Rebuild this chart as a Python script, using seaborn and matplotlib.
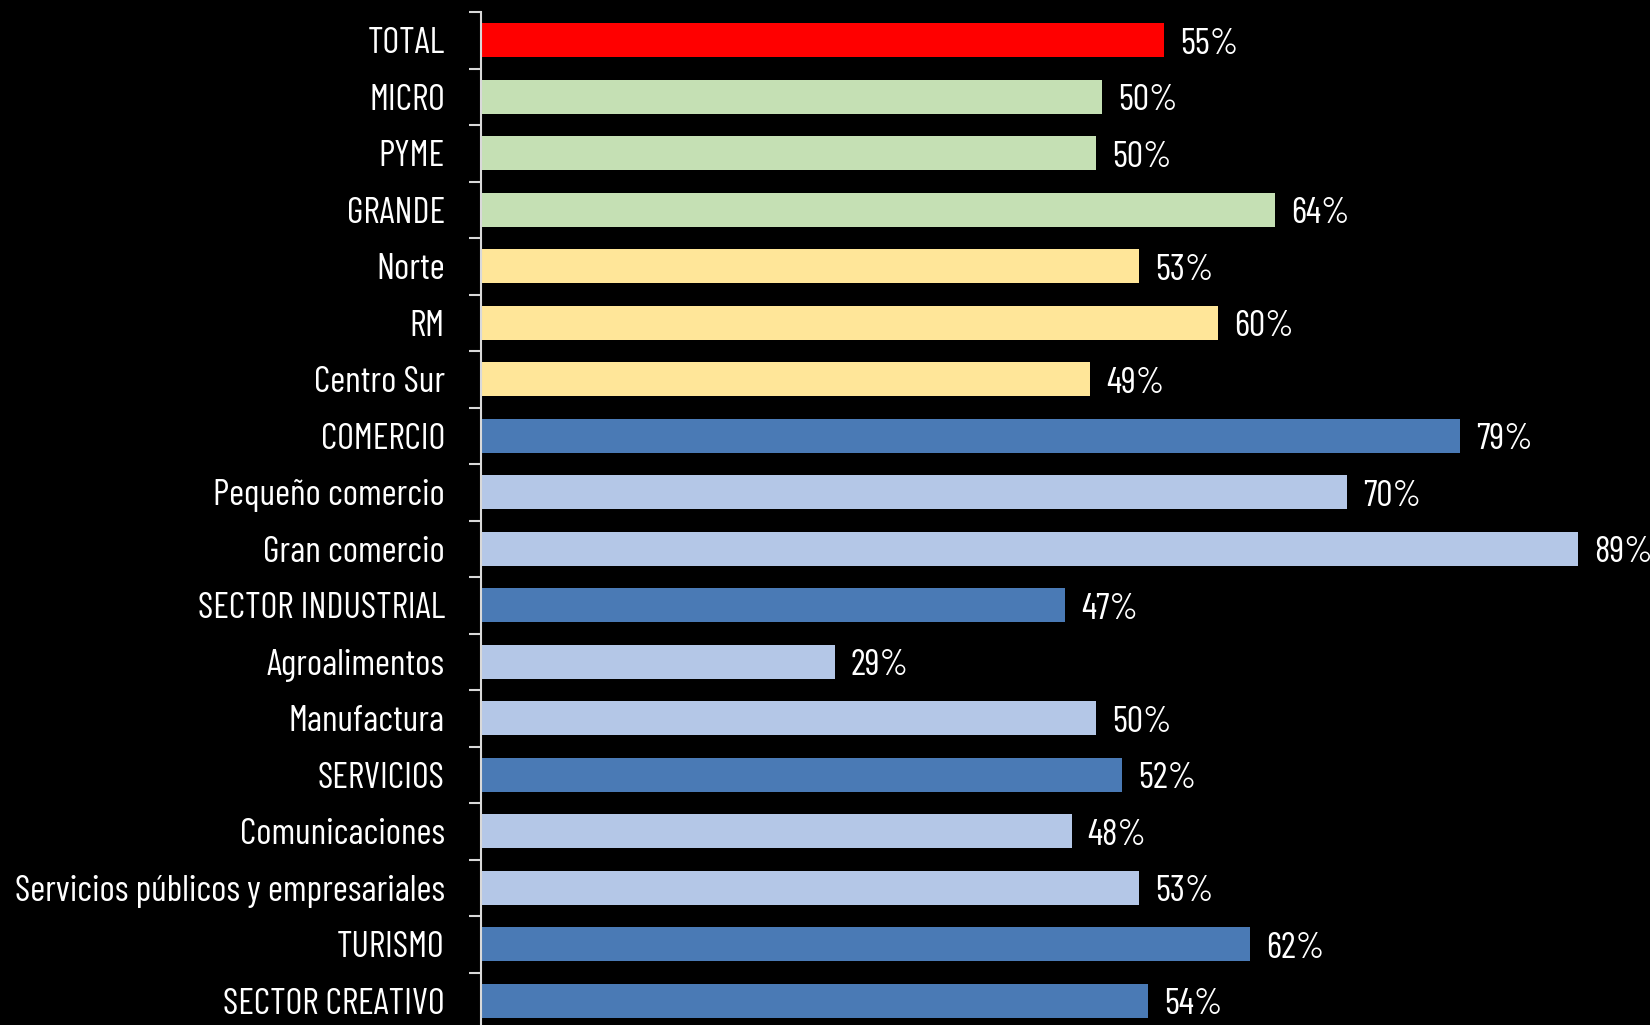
import matplotlib
matplotlib.use("Agg")
import matplotlib.pyplot as plt
from matplotlib.ticker import FixedLocator
import seaborn as sns
import pandas as pd

categories = ["TOTAL", "MICRO", "PYME", "GRANDE", "Norte", "RM", "Centro Sur",
              "COMERCIO", "Pequeño comercio", "Gran comercio", "SECTOR INDUSTRIAL",
              "Agroalimentos", "Manufactura", "SERVICIOS", "Comunicaciones",
              "Servicios públicos y empresariales", "TURISMO", "SECTOR CREATIVO"]
values = [55.4, 50.4, 49.9, 64.4, 53.4, 59.8, 49.4, 79.4, 70.2, 89.0, 47.4, 28.7,
          49.9, 52.0, 47.9, 53.4, 62.4, 54.1]
groups = ["total", "size", "size", "size", "region", "region", "region",
          "sector", "sub", "sub", "sector", "sub", "sub", "sector", "sub", "sub",
          "sector", "sector"]

group_colors = {"total": "#FF0000", "size": "#C5E0B4", "region": "#FFE699",
                "sector": "#4A7AB5", "sub": "#B4C7E7"}

df = pd.DataFrame({"cat": categories, "val": values, "grp": groups})

sns.set_style("dark")
plt.rcParams['font.family'] = ['Barlow Condensed', 'DejaVu Sans']

fig = plt.figure(figsize=(16.5, 10.25), dpi=100, facecolor="black")
ax = fig.add_axes([0.2915, -0.004, 0.7085, 0.9922])
ax.set_facecolor("black")

sns.barplot(data=df, x="val", y="cat", hue="grp", palette=group_colors,
            dodge=False, legend=False, width=0.6, orient="h", saturation=1,
            linewidth=0, ax=ax)

# value labels next to each bar
for i, v in enumerate(values):
    ax.text(v + 1.3, i + 0.07, f"{v:.0f}%", color="white", fontsize=26.3,
            va="center", ha="left")

ax.set_xlim(0, 94.8)
ax.set_ylim(len(categories) - 0.5, -0.5)
ax.set_xlabel("")
ax.set_ylabel("")
ax.set_xticks([])

ax.tick_params(axis="y", which="major", length=0, pad=26, labelsize=26.3, labelcolor="white")
ax.yaxis.set_minor_locator(FixedLocator([i - 0.5 for i in range(len(categories) + 1)]))
ax.tick_params(axis="y", which="minor", length=9, width=1.5, color="#d9d9d9", left=True)

for s in ["top", "right", "bottom"]:
    ax.spines[s].set_visible(False)
ax.spines["left"].set_color("#d9d9d9")
ax.spines["left"].set_linewidth(1.5)
ax.grid(False)

fig.savefig("out.png", dpi=100, facecolor="black")
